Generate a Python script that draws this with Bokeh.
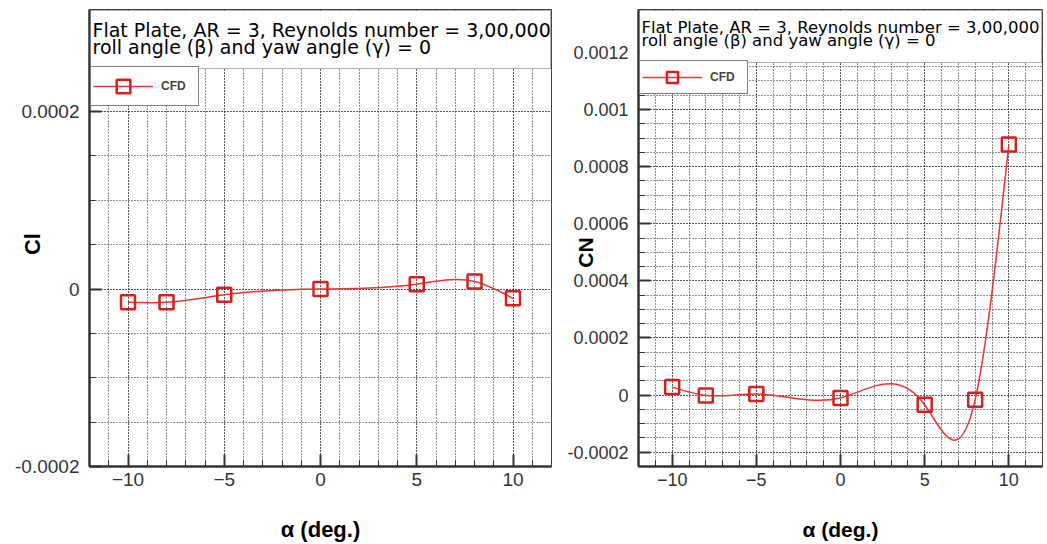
import numpy as np
from bokeh.plotting import figure
from bokeh.layouts import row
from bokeh.models import (ColumnDataSource, BoxAnnotation, Label, Legend, LegendItem,
                          SingleIntervalTicker, CustomJSTickFormatter)
from bokeh.embed import file_html
from bokeh.resources import INLINE

# ---------------- data ----------------
alpha = [-10, -8, -5, 0, 5, 8, 10]
cl = [-1.5e-5, -1.5e-5, -6.5e-6, 0.0, 5.5e-6, 8.5e-6, -1.05e-5]
cn = [2.8e-5, -1.0e-6, 4.0e-6, -1.0e-5, -3.4e-5, -1.6e-5, 8.77e-4]

title_lines = ["Flat Plate, AR = 3, Reynolds number = 3,00,000",
               "roll angle (\u03b2) and yaw angle (\u03b3) = 0"]
x_label = "\u03b1 (deg.)"
series_name = "CFD"

RED = "#d42020"
LINE_RED = "#e53535"
NBSP = "\u00a0"

H = 544
TOP = 9
BOTTOM = 78


def spline_bezier(x, y):
    """Natural cubic spline through the points, as one cubic Bezier per interval."""
    x = np.asarray(x, float)
    y = np.asarray(y, float)
    n = len(x)
    h = np.diff(x)
    A = np.zeros((n, n))
    b = np.zeros(n)
    A[0, 0] = 1.0
    A[-1, -1] = 1.0
    for i in range(1, n - 1):
        A[i, i - 1] = h[i - 1]
        A[i, i] = 2 * (h[i - 1] + h[i])
        A[i, i + 1] = h[i]
        b[i] = 6 * ((y[i + 1] - y[i]) / h[i] - (y[i] - y[i - 1]) / h[i - 1])
    M = np.linalg.solve(A, b)
    s = (y[1:] - y[:-1]) / h
    dl = s - h * (2 * M[:-1] + M[1:]) / 6
    dr = s + h * (M[:-1] + 2 * M[1:]) / 6
    return dict(x0=x[:-1], y0=y[:-1], x1=x[1:], y1=y[1:],
                cx0=x[:-1] + h / 3, cy0=y[:-1] + dl * h / 3,
                cx1=x[1:] - h / 3, cy1=y[1:] - dr * h / 3)


def make_panel(yvals, ylabel, ylabel_pad, width, bl, br, y_range,
               tick_fs, lab_fs, title_fs, title_y, title_x, box_bottom,
               leg_pad, leg_gh, xlab_standoff, ylab_standoff):
    p = figure(width=width, height=H, x_range=(-12, 12), y_range=y_range,
               output_backend="svg", toolbar_location=None, title=None,
               min_border_left=bl, min_border_right=br, min_border_top=TOP,
               min_border_bottom=BOTTOM, background_fill_color="white",
               border_fill_color="white")
    fw = width - bl - br
    fh = H - TOP - BOTTOM

    p.outline_line_color = "#444444"
    p.outline_line_width = 1

    p.xaxis.ticker = SingleIntervalTicker(interval=5, num_minor_ticks=5)
    p.yaxis.ticker = SingleIntervalTicker(interval=0.0002, num_minor_ticks=4)
    p.yaxis.formatter = CustomJSTickFormatter(
        code="return String(parseFloat(tick.toPrecision(6)));")

    for ax in (p.xaxis, p.yaxis):
        ax.axis_line_color = "#333333"
        ax.axis_line_width = 2.5
        ax.major_tick_in = 12
        ax.major_tick_out = 0
        ax.minor_tick_in = 6
        ax.minor_tick_out = 0
        ax.major_tick_line_color = "#333333"
        ax.major_tick_line_width = 2
        ax.minor_tick_line_color = "#333333"
        ax.minor_tick_line_width = 1
        ax.major_label_text_font = "Liberation Sans"
        ax.major_label_text_font_size = tick_fs
        ax.major_label_text_color = "#333333"
        ax.axis_label_text_font = "Liberation Sans"
        ax.axis_label_text_font_style = "bold"
        ax.axis_label_text_font_size = lab_fs
        ax.axis_label_text_color = "black"
    p.xaxis.axis_label = x_label
    # trailing no-break spaces shift the rotated title down along the axis,
    # so it sits between two tick labels as in the reference
    p.yaxis.axis_label = ylabel + NBSP * ylabel_pad
    p.xaxis.major_label_standoff = 6
    p.xaxis.axis_label_standoff = xlab_standoff
    p.yaxis.major_label_standoff = 10
    p.yaxis.axis_label_standoff = ylab_standoff

    for g in (p.xgrid, p.ygrid):
        g.grid_line_color = "#222222"
        g.grid_line_dash = "1 2"
        g.grid_line_width = 1
        g.minor_grid_line_color = "#222222"
        g.minor_grid_line_dash = "1 2"
        g.minor_grid_line_width = 1

    src = ColumnDataSource(spline_bezier(alpha, yvals))
    bez = p.bezier(x0="x0", y0="y0", x1="x1", y1="y1", cx0="cx0", cy0="cy0",
                   cx1="cx1", cy1="cy1", source=src, line_color=LINE_RED,
                   line_width=1.5)
    sc = p.scatter(x=alpha, y=yvals, marker="square", size=14, fill_color=None,
                   line_color=RED, line_width=2.5)

    leg_h = 2 * leg_pad + leg_gh
    leg = Legend(items=[LegendItem(label=series_name, renderers=[bez, sc])],
                 location=(1, fh - box_bottom - leg_h), padding=leg_pad, spacing=0,
                 glyph_width=60, glyph_height=leg_gh, label_standoff=8,
                 label_width=35, label_text_font="Liberation Sans",
                 label_text_font_style="bold", label_text_font_size="12px",
                 border_line_color="black", border_line_width=1,
                 background_fill_color="white", background_fill_alpha=1.0)
    p.add_layout(leg)

    box = BoxAnnotation(left=1, right=fw - 1, bottom=fh - box_bottom, top=fh - 1,
                        left_units="screen", right_units="screen",
                        bottom_units="screen", top_units="screen",
                        fill_color="white", fill_alpha=1.0, line_color="black",
                        line_width=1, level="overlay")
    p.add_layout(box)
    for txt, dy in zip(title_lines, title_y):
        p.add_layout(Label(x=title_x, y=fh - dy, x_units="screen", y_units="screen",
                           text=txt, text_font="DejaVu Sans",
                           text_font_size=title_fs, text_color="black",
                           text_baseline="alphabetic", level="overlay"))
    return p


# left panel: frame x 89..551
p1 = make_panel(cl, "Cl", 2, 560, 89, 9, (-0.0002, 0.000315),
                "19px", "22px", "19px", (20, 37), 3, 59,
                2, 34, 28, -33)
# right panel: frame x 638..1042
p2 = make_panel(cn, "CN", 5, 487, 78, 5, (-0.00025, 0.00135),
                "18px", "21px", "16.5px", (18, 31), 3, 53,
                2, 28, 29, -33)

layout = row(p1, p2)
open("out.html", "w").write(file_html(layout, INLINE))
